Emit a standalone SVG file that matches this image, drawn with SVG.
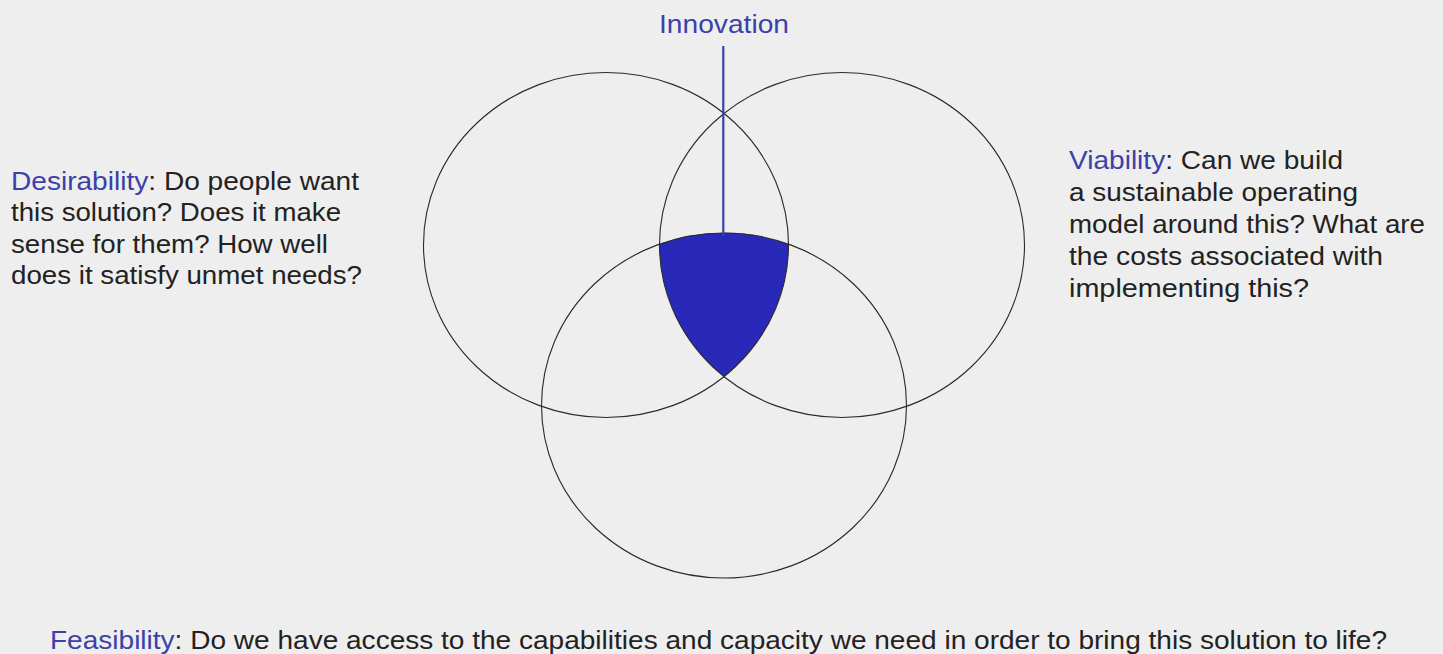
<svg xmlns="http://www.w3.org/2000/svg" width="1443" height="654" viewBox="0 0 1443 654">
  <style>
    .ring { fill: none; stroke: #2b2b2b; stroke-width: 1.1; }
    .txt { font-family: "Liberation Sans", Arial, sans-serif; font-size: 26px; fill: #222222; }
    .key { fill: #3b41a8; }
    .core { fill: #2828b9; }
    .pointer { stroke: #3b41a8; stroke-width: 2.2; }
  </style>
  <rect width="1443" height="654" fill="#eeeeee"/>

  <!-- shared area of all three sets -->
  <g id="core">
    <path class="core" d="M 659.5 244 A 182.5 172.5 0 0 1 788.5 244 A 182.5 172.5 0 0 1 724 376.6 A 182.5 172.5 0 0 1 659.5 244 Z"/>
  </g>

  <g id="desirability-set">
    <ellipse class="ring" cx="606" cy="245" rx="182.5" ry="172.5"/>
  </g>
  <g id="viability-set">
    <ellipse class="ring" cx="842" cy="245" rx="182.5" ry="172.5"/>
  </g>
  <g id="feasibility-set">
    <ellipse class="ring" cx="724" cy="405.5" rx="182.5" ry="172.5"/>
  </g>

  <g id="connectors">
    <line class="pointer" x1="723.3" y1="46" x2="723.3" y2="236"/>
  </g>

  <g id="innovation-label">
    <text class="txt key" x="659" y="33" font-size="25" textLength="130" lengthAdjust="spacingAndGlyphs">Innovation</text>
  </g>

  <g id="desirability-text" class="txt">
    <text x="11" y="189.5" textLength="348" lengthAdjust="spacingAndGlyphs"><tspan class="key">Desirability</tspan>: Do people want</text>
    <text x="11" y="221" textLength="330" lengthAdjust="spacingAndGlyphs">this solution? Does it make</text>
    <text x="11" y="252.5" textLength="317" lengthAdjust="spacingAndGlyphs">sense for them? How well</text>
    <text x="11" y="284" textLength="351" lengthAdjust="spacingAndGlyphs">does it satisfy unmet needs?</text>
  </g>

  <g id="viability-text" class="txt">
    <text x="1069" y="169" textLength="274" lengthAdjust="spacingAndGlyphs"><tspan class="key">Viability</tspan>: Can we build</text>
    <text x="1069" y="201" textLength="289" lengthAdjust="spacingAndGlyphs">a sustainable operating</text>
    <text x="1069" y="233" textLength="356" lengthAdjust="spacingAndGlyphs">model around this? What are</text>
    <text x="1069" y="265" textLength="314" lengthAdjust="spacingAndGlyphs">the costs associated with</text>
    <text x="1069" y="297" textLength="240" lengthAdjust="spacingAndGlyphs">implementing this?</text>
  </g>

  <g id="feasibility-text" class="txt">
    <text x="50" y="649" textLength="1337" lengthAdjust="spacingAndGlyphs"><tspan class="key">Feasibility</tspan>: Do we have access to the capabilities and capacity we need in order to bring this solution to life?</text>
  </g>
</svg>
